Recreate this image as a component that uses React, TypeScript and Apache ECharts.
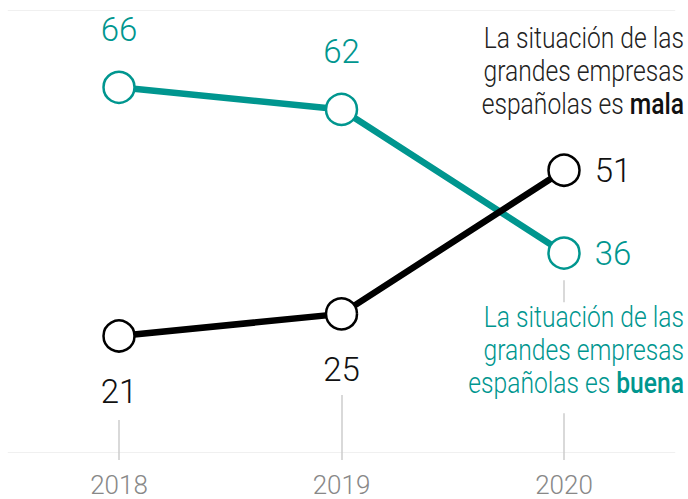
import React, { useEffect, useRef } from "react";
import * as echarts from "echarts";

const years = ["2018", "2019", "2020"];
const mala = [66, 62, 36];
const buena = [21, 25, 51];
const tickTops = [5.8, 10.3, 7.0];
const FONT = "Roboto, sans-serif";
const TEAL = "#00968f";

export default function App() {
  const ref = useRef<HTMLDivElement>(null);
  useEffect(() => {
    if (!ref.current) return;
    const chart = echarts.init(ref.current, null, { renderer: "svg" });
    const annot = (text: string, y: number, fill: string, bfill: string) => ({
      type: "text",
      x: 684,
      y,
      scaleX: 0.85,
      style: {
        text,
        x: 0,
        y: 0,
        fontFamily: FONT,
        fontSize: 29,
        fontWeight: 300,
        lineHeight: 33,
        fill,
        align: "right",
        verticalAlign: "top",
        rich: { b: { fontFamily: FONT, fontSize: 29, fontWeight: 500, fill: bfill, lineHeight: 33 } },
      },
    });
    const option: any = {
      animation: false,
      textStyle: { fontFamily: FONT },
      grid: { left: 7.75, right: 12.75, top: 10, bottom: 47 },
      xAxis: {
        type: "category",
        data: years,
        boundaryGap: true,
        axisLine: { show: false },
        axisTick: { show: true, alignWithLabel: true, length: 8, lineStyle: { color: "#cccccc", width: 1.5 } },
        axisLabel: { fontFamily: FONT, fontSize: 26, fontWeight: 300, color: "#888888", margin: 20 },
      },
      yAxis: {
        type: "value",
        min: 0,
        max: 80,
        interval: 80,
        axisLine: { show: false },
        axisTick: { show: false },
        axisLabel: { show: false },
        splitLine: { show: true, lineStyle: { color: "#f0f0f0", width: 1 } },
      },
      series: [
        {
          name: "mala",
          type: "line",
          data: mala.map((v, i) => ({
            value: v,
            label: {
              position: i === 2 ? "right" : "top",
              distance: i === 2 ? 14 : 25,
            },
          })),
          lineStyle: { color: TEAL, width: 6.5 },
          itemStyle: { color: "#ffffff", borderColor: TEAL, borderWidth: 2.5 },
          symbol: "circle",
          symbolSize: 31,
          showAllSymbol: true,
          z: 2,
          label: { show: true, fontFamily: FONT, fontSize: 33, fontWeight: 300, color: TEAL },
          markLine: {
            silent: true,
            symbol: "none",
            label: { show: false },
            lineStyle: { color: "#cccccc", width: 1.5, type: "solid" },
            data: [
              ...tickTops.map((t, i) => [
                { coord: [i, 0] },
                { coord: [i, t] },
              ]),
              [{ coord: [2, 27.1] }, { coord: [2, 31.1] }],
            ],
          },
        },
        {
          name: "buena",
          type: "line",
          data: buena.map((v, i) => ({
            value: v,
            label: {
              position: i === 2 ? "right" : "bottom",
              distance: i === 2 ? 14 : 22,
            },
          })),
          lineStyle: { color: "#000000", width: 6.5 },
          itemStyle: { color: "#ffffff", borderColor: "#000000", borderWidth: 2.5 },
          symbol: "circle",
          symbolSize: 31,
          showAllSymbol: true,
          z: 3,
          label: { show: true, fontFamily: FONT, fontSize: 33, fontWeight: 300, color: "#111111" },
        },
      ],
      graphic: [
        annot("La situación de las\ngrandes empresas\nespañolas es {b|mala}", 22, "#222222", "#111111"),
        annot("La situación de las\ngrandes empresas\nespañolas es {b|buena}", 301, TEAL, TEAL),
      ],
    };
    chart.setOption(option);
    return () => chart.dispose();
  }, []);
  return <div ref={ref} style={{ width: 688, height: 499, position: "absolute", left: 0, top: 0 }} />;
}
